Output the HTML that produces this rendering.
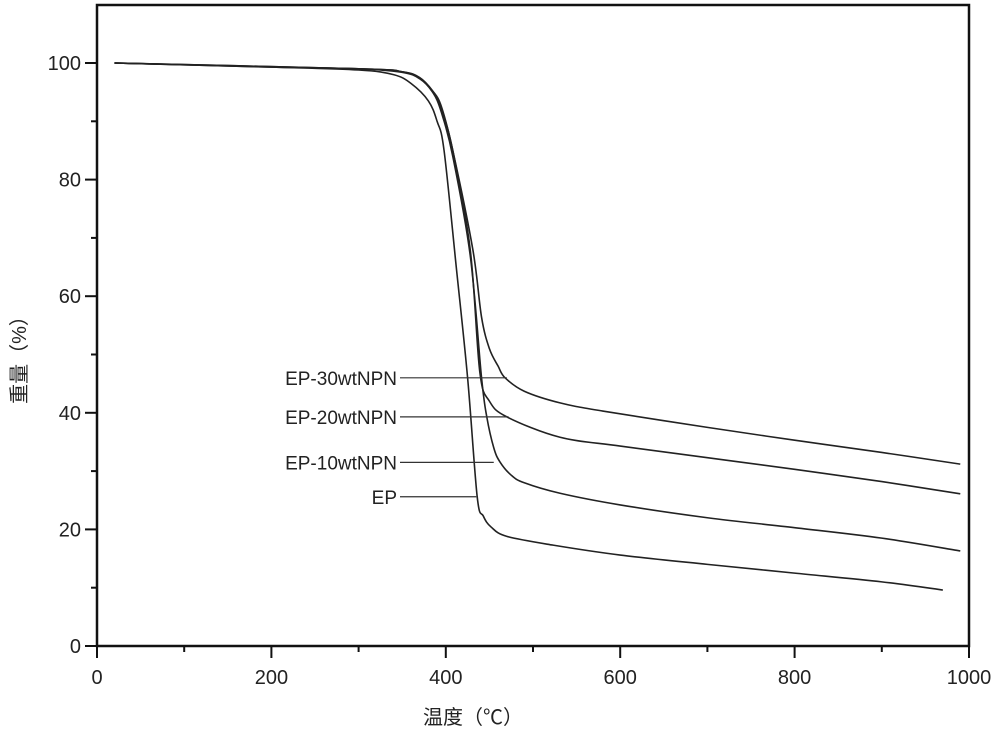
<!DOCTYPE html>
<html><head><meta charset="utf-8"><style>
body{margin:0;background:#fff}
svg{display:block}
text{font-family:"Liberation Sans","Noto Sans CJK SC",sans-serif;fill:#222}
</style></head><body>
<svg id="chart" width="1000" height="736" viewBox="0 0 1000 736" xmlns="http://www.w3.org/2000/svg">
<g id="axes"></g>
<g id="series"></g>
<g id="labels"></g>
<text x="473" y="724" font-size="20" text-anchor="middle">温度（℃）</text>
<text transform="translate(26,355) rotate(-90)" font-size="20" text-anchor="middle">重量（%）</text>
</svg>
<script>
const xTicks=[0,200,400,600,800,1000];
const yTicks=[0,20,40,60,80,100];
const seriesNames=["EP-30wtNPN","EP-20wtNPN","EP-10wtNPN","EP"];
const ep=[[20,100],[200,99.3],[300,98.8],[340,98],[360,96.5],[380,93.5],[390,90],[398,85],[412,65],[425,46],[436,25.6],[443,22.3],[452,20.4],[470,18.8],[523,17.3],[600,15.6],[700,14],[800,12.5],[900,11],[970,9.6]];
const wt10=[[20,100],[200,99.3],[300,99],[350,98.4],[370,97.3],[385,95],[395,91.5],[408,84],[428,67],[441,46],[447,39.3],[455,34],[462,31.6],[475,29.3],[490,28],[531,26.2],[600,24.2],[700,22],[800,20.3],[900,18.5],[990,16.3]];
const wt20=[[20,100],[300,99],[350,98.5],[370,97.4],[385,95],[395,92],[408,85],[428,68],[439,47],[450,42],[470,39.3],[531,35.8],[600,34.3],[700,32.3],[800,30.3],[900,28.2],[990,26.1]];
const wt30=[[20,100],[300,99],[350,98.5],[370,97.5],[385,95.2],[395,92.5],[408,85],[431,68],[441,56.4],[450,51],[460,48],[468,46],[490,43.7],[531,41.7],[580,40.3],[700,37.5],[800,35.3],[900,33.2],[990,31.2]];
const labelTargets=[[470,46],[472,39.3],[455,31.5],[435,25.6]];

const L=97,R=969,T=5,B=646;
const X=v=>L+(v/1000)*(R-L);
const Y=v=>B-(v/100)*(B-63);
const NS="http://www.w3.org/2000/svg";
function mk(tag,attrs,parent){const e=document.createElementNS(NS,tag);for(const k in attrs)e.setAttribute(k,attrs[k]);parent.appendChild(e);return e;}
const axes=document.getElementById('axes');
const frame=mk('rect',{x:L,y:T,width:R-L,height:B-T,fill:'none',stroke:'#111','stroke-width':2.5},axes);


for(let v=0;v<=1000;v+=100){const maj=v%200===0;
 const t=mk('line',{x1:X(v),x2:X(v),y1:B,y2:B+(maj?12:6),stroke:'#111','stroke-width':2},axes);
 
 }
for(let v=0;v<=100;v+=10){const maj=v%20===0;
 const t=mk('line',{x1:L,x2:L-(maj?12:6),y1:Y(v),y2:Y(v),stroke:'#111','stroke-width':2},axes);
 
 }
xTicks.forEach(v=>{const t=mk('text',{x:X(v),y:B+38,'font-size':20,'text-anchor':'middle'},axes);t.textContent=v;
 
 });
yTicks.forEach(v=>{const t=mk('text',{x:L-16,y:Y(v)+7,'font-size':20,'text-anchor':'end'},axes);t.textContent=v;
 
 });
function path(pts){const p=pts.map(d=>[X(d[0]),Y(d[1])]);let s=`M${p[0][0]},${p[0][1]}`;
 for(let i=0;i<p.length-1;i++){const p0=p[i-1]||p[i],p1=p[i],p2=p[i+1],p3=p[i+2]||p2;
  s+=` C${p1[0]+(p2[0]-p0[0])/6},${p1[1]+(p2[1]-p0[1])/6} ${p2[0]-(p3[0]-p1[0])/6},${p2[1]-(p3[1]-p1[1])/6} ${p2[0]},${p2[1]}`;}
 return s;}
const sg=document.getElementById('series');
[[wt30,'series-ep-30wtnpn'],[wt20,'series-ep-20wtnpn'],[wt10,'series-ep-10wtnpn'],[ep,'series-ep']].forEach(([d,n])=>{
 const e=mk('path',{d:path(d),fill:'none',stroke:'#222','stroke-width':1.6},sg);
 
 });
const lg=document.getElementById('labels');
seriesNames.forEach((n,i)=>{const [tx,ty]=labelTargets[i];
 const t=mk('text',{x:397,y:Y(ty)+7,'font-size':19,'text-anchor':'end'},lg);t.textContent=n;
 
 
 const l=mk('line',{x1:400,x2:X(tx),y1:Y(ty),y2:Y(ty),stroke:'#333','stroke-width':1.2},lg);
 
 });
</script>
</body></html>
